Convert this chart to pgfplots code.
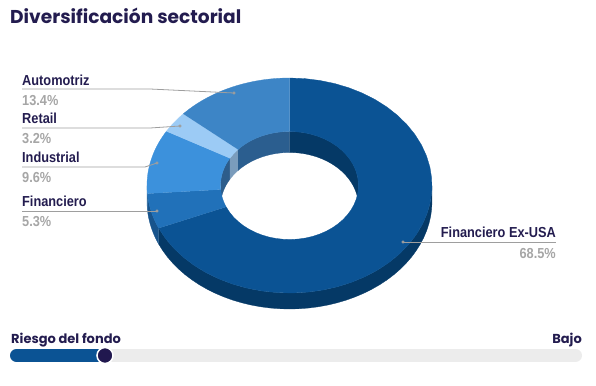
\documentclass[border=0pt]{standalone}
\usepackage{pgfplots}
\usepackage{pgfplotstable}
\pgfplotsset{compat=1.18}
\usepackage{fontspec}
\setmainfont{Liberation Sans}
\newfontfamily\titlefont{Poppins}
\newfontfamily\labfont{Liberation Sans}[FakeStretch=0.88]

\definecolor{exusa}{HTML}{0B5394}
\definecolor{fin}{HTML}{2171B9}
\definecolor{ind}{HTML}{3C91DC}
\definecolor{ret}{HTML}{9CCBF5}
\definecolor{aut}{HTML}{3D85C6}
\definecolor{exside}{HTML}{053966}
\definecolor{finside}{HTML}{18548C}
\definecolor{indside}{HTML}{2B6CA6}
\definecolor{exwall}{HTML}{053966}
\definecolor{indwall}{HTML}{2D5D8B}
\definecolor{retwall}{HTML}{7A9CBC}
\definecolor{autwall}{HTML}{2B5E8F}
\definecolor{labcol}{HTML}{231C4F}
\definecolor{pctcol}{HTML}{A6A6A6}
\definecolor{linecol}{HTML}{9E9E9E}
\definecolor{bargray}{HTML}{ECECEC}
\definecolor{knob}{HTML}{21184F}

\pgfplotstableread{
sector value
{Financiero Ex-USA} 68.5
Financiero 5.3
Industrial 9.6
Retail 3.2
Automotriz 13.4
}\sectors

% band between arc (rx1,ry1,off1) from a to b and arc (rx2,ry2,off2) back from b to a
\newcommand\band[9]{%
  \addplot[fill=#9, draw=#9, line width=0.3pt, samples at={0,...,81}, variable=\k]
   ({289.5+ifthenelse(\k<=40,#3,#6)*sin(th(\k,#1,#2))},
    {185.5-ifthenelse(\k<=40,#4,#7)*cos(th(\k,#1,#2))+ifthenelse(\k<=40,#5,#8)});
}

\begin{document}
\begin{tikzpicture}
\pgfplotstablegetelem{0}{value}\of\sectors \pgfmathsetmacro\aA{3.6*\pgfplotsretval}
\pgfplotstablegetelem{1}{value}\of\sectors \pgfmathsetmacro\aB{\aA+3.6*\pgfplotsretval}
\pgfplotstablegetelem{2}{value}\of\sectors \pgfmathsetmacro\aC{\aB+3.6*\pgfplotsretval}
\pgfplotstablegetelem{3}{value}\of\sectors \pgfmathsetmacro\aD{\aC+3.6*\pgfplotsretval}
\pgfplotstablegetelem{4}{value}\of\sectors \pgfmathsetmacro\aE{\aD+3.6*\pgfplotsretval}
\begin{axis}[
  scale only axis, width=596bp, height=386bp,
  xmin=0, xmax=596, ymin=0, ymax=386, y dir=reverse,
  hide axis, clip=false,
  declare function={th(\k,\a,\b)=ifthenelse(\k<=40,\a+(\b-\a)*\k/40,\b-(\b-\a)*(\k-41)/40);},
]
\addplot[draw=none] coordinates {(0,0) (596,386)};
% outer side (front)
\band{90}{\aA}{142.5}{107.5}{0}{142.5}{107.5}{16}{exside}
\band{\aA}{\aB}{142.5}{107.5}{0}{142.5}{107.5}{16}{finside}
\band{\aB}{270}{142.5}{107.5}{0}{142.5}{107.5}{16}{indside}
% inner wall (back)
\band{270}{\aC}{69}{54}{0}{69}{54}{21}{indwall}
\band{\aC}{\aD}{69}{54}{0}{69}{54}{21}{retwall}
\band{\aD}{\aE}{69}{54}{0}{69}{54}{21}{autwall}
\band{0}{90}{69}{54}{0}{69}{54}{21}{exwall}
% top surfaces
\band{0}{\aA}{142.5}{107.5}{0}{69}{54}{0}{exusa}
\band{\aA}{\aB}{142.5}{107.5}{0}{69}{54}{0}{fin}
\band{\aB}{\aC}{142.5}{107.5}{0}{69}{54}{0}{ind}
\band{\aC}{\aD}{142.5}{107.5}{0}{69}{54}{0}{ret}
\band{\aD}{\aE}{142.5}{107.5}{0}{69}{54}{0}{aut}
% leader lines
\addplot[linecol, line width=0.8pt] coordinates {(22,89) (150,89) (234,93)};
\addplot[linecol, line width=0.8pt] coordinates {(22,128) (150,128) (180,126)};
\addplot[linecol, line width=0.8pt] coordinates {(22,167) (145,167) (157,163)};
\addplot[linecol, line width=0.8pt] coordinates {(22,211) (157,211)};
\addplot[linecol, line width=0.8pt] coordinates {(403,242) (556,242)};
\addplot[only marks, mark=*, mark size=1.4pt, color=linecol] coordinates {(234,93) (180,126) (157,163) (157,211) (403,242)};
% labels
\begin{scope}[every node/.style={inner sep=0pt, font=\labfont\bfseries\fontsize{14.5bp}{16bp}\selectfont}]
\node[anchor=base west, text=labcol] at (axis cs:22,85) {Automotriz};
\node[anchor=base west, text=pctcol] at (axis cs:22,105) {13.4\%};
\node[anchor=base west, text=labcol] at (axis cs:22,123) {Retail};
\node[anchor=base west, text=pctcol] at (axis cs:22,143) {3.2\%};
\node[anchor=base west, text=labcol] at (axis cs:22,162) {Industrial};
\node[anchor=base west, text=pctcol] at (axis cs:22,182) {9.6\%};
\node[anchor=base west, text=labcol] at (axis cs:22,206) {Financiero};
\node[anchor=base west, text=pctcol] at (axis cs:22,226) {5.3\%};
\node[anchor=base east, text=labcol] at (axis cs:556,237) {Financiero Ex-USA};
\node[anchor=base east, text=pctcol] at (axis cs:556,258) {68.5\%};
\end{scope}
% title
\node[anchor=base west, inner sep=0pt, text=labcol, font=\titlefont\bfseries\fontsize{18.6bp}{20bp}\selectfont] at (axis cs:10,24) {Diversificación sectorial};
% risk slider
\node[anchor=base west, inner sep=0pt, text=labcol, font=\titlefont\bfseries\fontsize{13bp}{15bp}\selectfont] at (axis cs:11,343) {Riesgo del fondo};
\node[anchor=base east, inner sep=0pt, text=labcol, font=\titlefont\bfseries\fontsize{13bp}{15bp}\selectfont] at (axis cs:582,343) {Bajo};
\addplot[bargray, line width=13bp, line cap=round] coordinates {(16.5,355.5) (575.5,355.5)};
\addplot[exusa, line width=13bp, line cap=round] coordinates {(16.5,355.5) (104,355.5)};
\addplot[only marks, mark=*, mark size=8bp, mark options={fill=knob, draw=white, line width=1.5bp}] coordinates {(105,355.5)};
\end{axis}
\end{tikzpicture}
\end{document}
